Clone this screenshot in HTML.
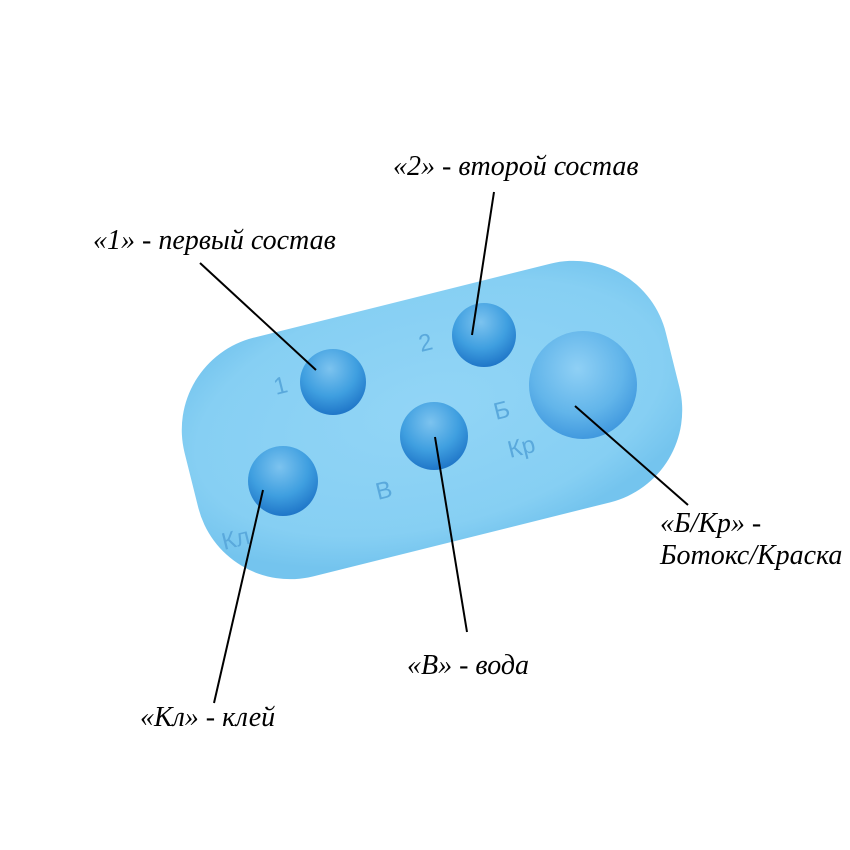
<!DOCTYPE html>
<html><head><meta charset="utf-8"><style>
html,body{margin:0;padding:0;background:#fff;}
svg{display:block;}
text.l{font-family:"Liberation Serif",serif;font-style:italic;font-size:28px;fill:#000;}
text.e{font-family:"Liberation Sans",sans-serif;font-size:24px;fill:#5aa9dc;}
</style></head><body>
<svg width="850" height="850" viewBox="0 0 850 850" xmlns="http://www.w3.org/2000/svg">
<defs>
<radialGradient id="pal" cx="50%" cy="45%" r="60%">
<stop offset="0" stop-color="#92d5f6"/><stop offset="0.8" stop-color="#86cff3"/><stop offset="1" stop-color="#74c4ee"/>
</radialGradient>
<radialGradient id="well" cx="45%" cy="30%" r="75%">
<stop offset="0" stop-color="#7cc3ef"/><stop offset="0.55" stop-color="#3f9fe0"/><stop offset="1" stop-color="#1a6fc4"/>
</radialGradient>
<radialGradient id="big" cx="45%" cy="35%" r="70%">
<stop offset="0" stop-color="#8fd0f5"/><stop offset="0.6" stop-color="#62b5ea"/><stop offset="1" stop-color="#3a93dc"/>
</radialGradient>
</defs>
<g transform="rotate(-14 432 420)">
<rect x="184" y="297" width="496" height="246" rx="95" fill="url(#pal)"/>
</g>
<circle cx="333" cy="382" r="33" fill="url(#well)"/>
<circle cx="484" cy="335" r="32" fill="url(#well)"/>
<circle cx="434" cy="436" r="34" fill="url(#well)"/>
<circle cx="283" cy="481" r="35" fill="url(#well)"/>
<circle cx="583" cy="385" r="54" fill="url(#big)"/>
<text class="e" transform="translate(276,395) rotate(-14)">1</text>
<text class="e" transform="translate(421,352) rotate(-14)">2</text>
<text class="e" transform="translate(496,420) rotate(-14)">Б</text>
<text class="e" transform="translate(510,458) rotate(-14)">Кр</text>
<text class="e" transform="translate(378,500) rotate(-14)">В</text>
<text class="e" transform="translate(224,550) rotate(-14)">Кл</text>
<g stroke="#000" stroke-width="2">
<line x1="200" y1="263" x2="316" y2="370"/>
<line x1="494" y1="192" x2="472" y2="335"/>
<line x1="435" y1="437" x2="467" y2="632"/>
<line x1="263" y1="490" x2="214" y2="703"/>
<line x1="575" y1="406" x2="688" y2="505"/>
</g>
<text class="l" x="393" y="175">«2» - второй состав</text>
<text class="l" x="93" y="249">«1» - первый состав</text>
<text class="l" x="660" y="532">«Б/Кр» -</text>
<text class="l" x="660" y="564">Ботокс/Краска</text>
<text class="l" x="407" y="674">«В» - вода</text>
<text class="l" x="140" y="726">«Кл» - клей</text>
</svg>
</body></html>
